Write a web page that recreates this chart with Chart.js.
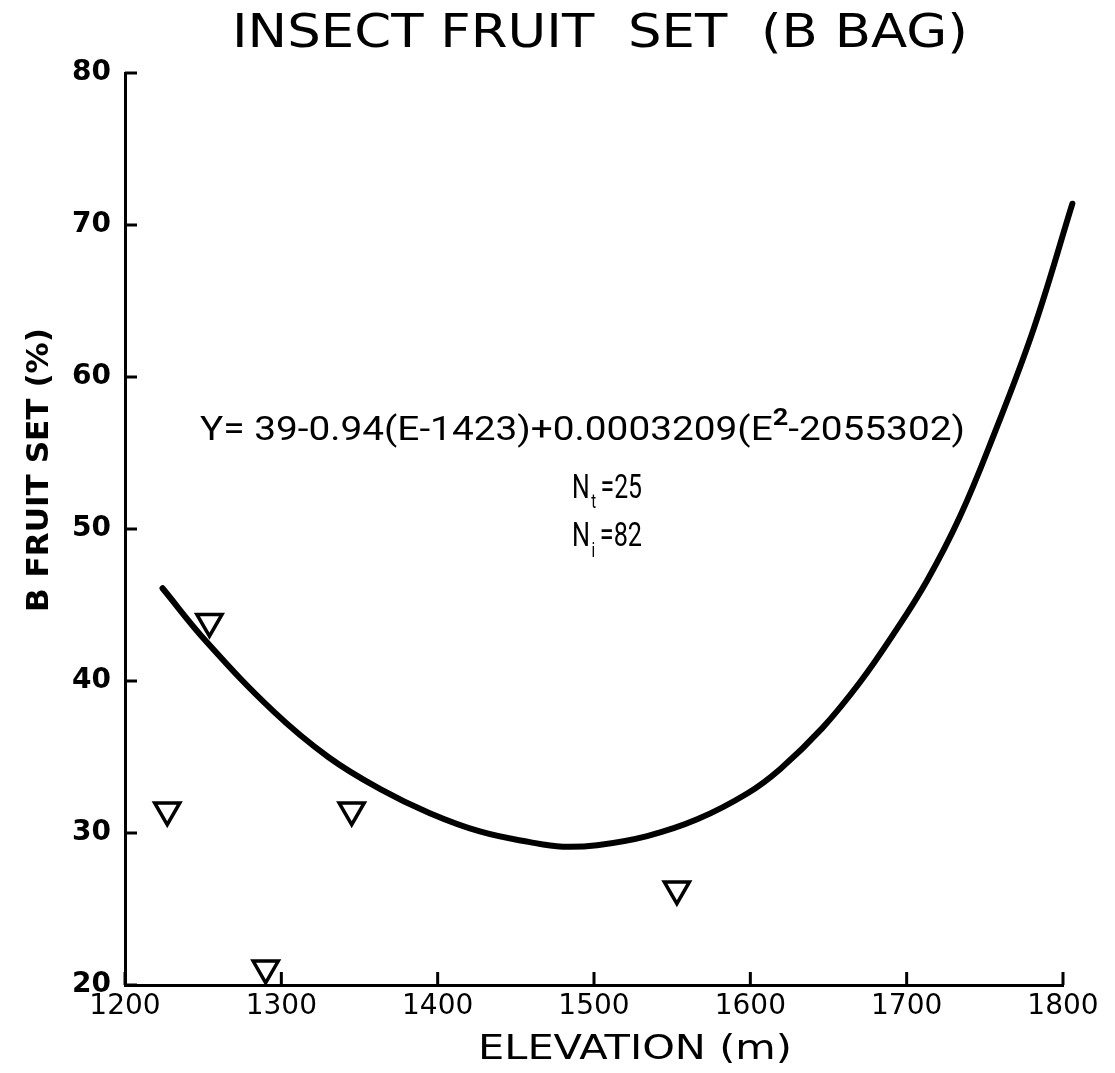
<!DOCTYPE html>
<html>
<head>
<meta charset="utf-8">
<title>Insect fruit set (B bag)</title>
<script src="https://cdn.jsdelivr.net/npm/chart.js@4/dist/chart.umd.min.js"></script>
<style>
    html, body { margin: 0; padding: 0; background: #fff; }
    #wrap { width: 1115px; height: 1073px; position: relative; }
</style>
</head>
<body>
<div id="wrap"><canvas id="fruitChart" width="1115" height="1073"></canvas></div>
<script>
// 1. DADOS
const elevations = [1227, 1254, 1290, 1345, 1553, 1814];
const fruitSet = [31.5, 43.9, 21.1, 31.5, 26.3, 65.3];

// curva ajustada, pontos lidos ao longo da linha
const curveElev = [1224, 1252, 1295, 1330, 1363, 1395, 1427, 1459, 1480, 1502, 1534,
                   1566, 1598, 1619, 1646, 1670, 1691, 1713, 1734, 1755, 1781, 1806];
const curveFit = [46.1, 42.6, 38.0, 35.0, 32.9, 31.3, 30.1, 29.4, 29.1, 29.2, 29.8,
                  30.9, 32.6, 34.2, 36.9, 39.9, 43.0, 46.6, 50.8, 56.0, 63.1, 71.4];

const xTicks = [1200, 1300, 1400, 1500, 1600, 1700, 1800];
const yTicks = [20, 30, 40, 50, 60, 70, 80];

const titleText = 'INSECT FRUIT  SET  (B BAG)';
const xTitle = 'ELEVATION (m)';
const yTitle = 'B FRUIT SET (%)';

const NARROW = "'Roboto', 'Liberation Sans', sans-serif";
const WIDE = "'DejaVu Sans', 'Lato', sans-serif";

// escreve o texto com altura dada (size) e esticado/comprimido até a largura pedida
function drawFit(ctx, text, cx, cy, size, weight, family, targetW, align) {
    ctx.font = `${weight} ${size}px ${family}`;
    const w = ctx.measureText(text).width;
    ctx.save();
    ctx.translate(cx, cy);
    ctx.scale(targetW / w, 1);
    ctx.textAlign = align || 'center';
    ctx.textBaseline = 'middle';
    ctx.fillText(text, 0, 0);
    ctx.restore();
}

// 2. PLUGIN: marcas internas nos eixos e textos
const annotations = {
    id: 'annotations',
    afterDraw(chart) {
        const { ctx, chartArea, scales: { x, y } } = chart;
        ctx.save();
        ctx.fillStyle = '#000';
        ctx.strokeStyle = '#000';

        // marcas dos eixos viradas para dentro
        ctx.lineWidth = 3;
        xTicks.forEach(v => {
            const px = x.getPixelForValue(v);
            ctx.beginPath();
            ctx.moveTo(px, chartArea.bottom);
            ctx.lineTo(px, chartArea.bottom - 13);
            ctx.stroke();
        });
        yTicks.forEach(v => {
            const py = y.getPixelForValue(v);
            ctx.beginPath();
            ctx.moveTo(chartArea.left, py);
            ctx.lineTo(chartArea.left + 12, py);
            ctx.stroke();
        });

        // título
        drawFit(ctx, titleText, 600, 35, 46, 'normal', WIDE, 736);

        // título do eixo x
        drawFit(ctx, xTitle, 635, 1050, 34, 'normal', WIDE, 314);

        // título do eixo y (girado)
        ctx.save();
        ctx.translate(40, 470);
        ctx.rotate(-Math.PI / 2);
        drawFit(ctx, yTitle, 0, 0, 31, 'bold', WIDE, 284);
        ctx.restore();

        // equação (peças: texto, expoente, texto)
        const eqA = 'Y= 39-0.94(E-1423)+0.0003209(E';
        const eqSup = '2';
        const eqB = '-2055302)';
        const eqSize = 33;
        ctx.font = `normal ${eqSize}px ${NARROW}`;
        const wA = ctx.measureText(eqA).width;
        const wB = ctx.measureText(eqB).width;
        ctx.font = `bold ${eqSize * 0.7}px ${NARROW}`;
        const wS = ctx.measureText(eqSup).width;
        const k = 765 / (wA + wB + wS);
        const eqY = y.getPixelForValue(56.4);
        const eqX = 200;
        ctx.save();
        ctx.translate(eqX, eqY);
        ctx.scale(k, 1);
        ctx.textAlign = 'left';
        ctx.textBaseline = 'middle';
        ctx.font = `normal ${eqSize}px ${NARROW}`;
        ctx.fillText(eqA, 0, 0);
        ctx.font = `bold ${eqSize * 0.7}px ${NARROW}`;
        ctx.fillText(eqSup, wA, -13);
        ctx.font = `normal ${eqSize}px ${NARROW}`;
        ctx.fillText(eqB, wA + wS, 0);
        ctx.restore();

        // N_t e N_i
        ctx.textAlign = 'left';
        ctx.textBaseline = 'middle';
        const nSize = 33;
        [['t', '=25', 52.6], ['i', '=82', 49.4]].forEach(([sub, rest, val]) => {
            const ny = y.getPixelForValue(val);
            ctx.font = `normal ${nSize}px ${NARROW}`;
            const wN = ctx.measureText('N').width;
            const wR = ctx.measureText(rest).width;
            ctx.font = `normal ${nSize * 0.6}px ${NARROW}`;
            const wSub = ctx.measureText(sub).width;
            const kn = 70 / (wN + wSub + wR + 8);
            ctx.save();
            ctx.translate(572, ny);
            ctx.scale(kn, 1);
            ctx.font = `normal ${nSize}px ${NARROW}`;
            ctx.fillText('N', 0, 0);
            ctx.font = `normal ${nSize * 0.6}px ${NARROW}`;
            ctx.fillText(sub, wN + 2, 14);
            ctx.font = `normal ${nSize}px ${NARROW}`;
            ctx.fillText(rest, wN + wSub + 8, 0);
            ctx.restore();
        });

        ctx.restore();
    }
};

// 3. GRÁFICO
document.addEventListener('DOMContentLoaded', function() {
    const ctx = document.getElementById('fruitChart').getContext('2d');

    const points = elevations.map((e, i) => ({ x: e, y: fruitSet[i] }));
    const curve = curveElev.map((e, i) => ({ x: e, y: curveFit[i] }));

    new Chart(ctx, {
        type: 'scatter',
        data: {
            datasets: [
                {
                    label: 'Observado',
                    data: points,
                    pointStyle: 'triangle',
                    rotation: 180,
                    pointRadius: 14.5,
                    borderWidth: 3.5,
                    borderColor: '#000',
                    backgroundColor: '#fff',
                    clip: false,
                    order: 1
                },
                {
                    label: 'Ajuste',
                    data: curve,
                    showLine: true,
                    pointRadius: 0,
                    borderColor: '#000',
                    borderWidth: 6,
                    tension: 0.4,
                    borderCapStyle: 'round',
                    clip: false,
                    order: 2
                }
            ]
        },
        options: {
            responsive: false,
            animation: false,
            events: [],
            layout: { padding: { top: 73, right: 52, left: 0, bottom: 0 } },
            plugins: {
                legend: { display: false },
                tooltip: { enabled: false },
                title: { display: false }
            },
            scales: {
                x: {
                    type: 'linear',
                    min: 1200,
                    max: 1800,
                    afterFit: scale => { scale.height = 88; },
                    afterBuildTicks: scale => { scale.ticks = xTicks.map(v => ({ value: v })); },
                    grid: { display: true, drawOnChartArea: false, drawTicks: false },
                    border: { display: true, color: '#000', width: 3 },
                    ticks: {
                        color: '#000',
                        padding: 5,
                        maxRotation: 0,
                        autoSkip: false,
                        callback: v => String(v),
                        font: { family: WIDE, size: 28, weight: 'normal' }
                    }
                },
                y: {
                    type: 'linear',
                    min: 20,
                    max: 80,
                    afterFit: scale => { scale.width = 125; },
                    afterBuildTicks: scale => { scale.ticks = yTicks.map(v => ({ value: v })); },
                    grid: { display: true, drawOnChartArea: false, drawTicks: false },
                    border: { display: true, color: '#000', width: 3 },
                    ticks: {
                        color: '#000',
                        padding: 14,
                        autoSkip: false,
                        callback: v => String(v),
                        font: { family: WIDE, size: 28, weight: 'bold' }
                    }
                }
            }
        },
        plugins: [annotations]
    });
});
</script>
</body>
</html>
